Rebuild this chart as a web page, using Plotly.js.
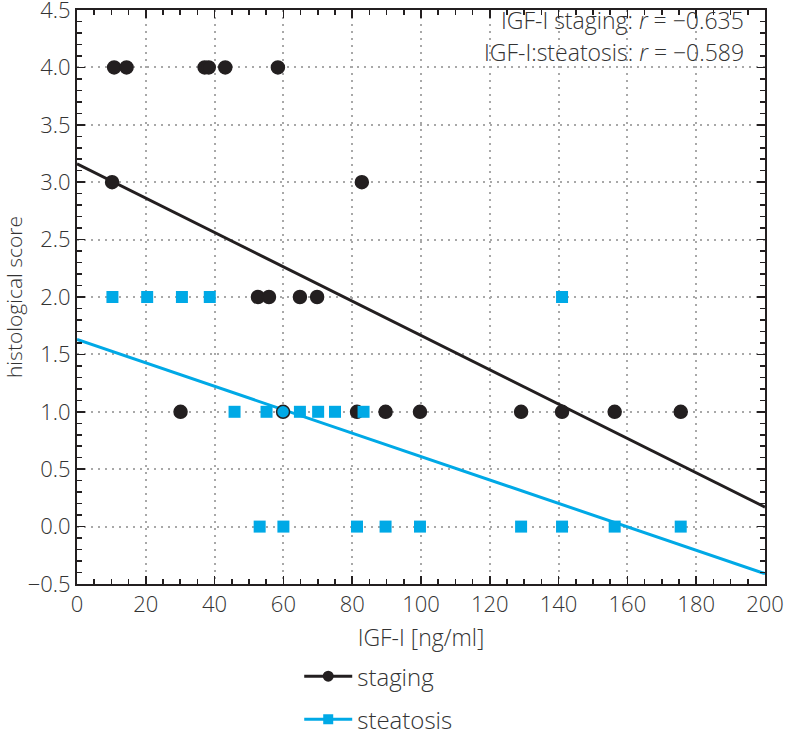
<!DOCTYPE html>
<html>
<head>
<meta charset="utf-8">
<script src="https://cdn.plot.ly/plotly-3.0.1.min.js"></script>
<style>html,body{margin:0;padding:0;background:#fff;}#chart{width:786px;height:730px;}</style>
</head>
<body>
<div id="chart"></div>
<script>
// Staging scores vs IGF-I
const stagingX = [10.8, 14.4, 37.1, 38.3, 43.1, 58.4, 10.2, 82.8, 52.6, 55.8, 64.8, 69.8, 30.1, 59.9, 81.4, 89.7, 99.7, 129.1, 141.0, 156.3, 175.5];
const stagingY = [4, 4, 4, 4, 4, 4, 3, 3, 2, 2, 2, 2, 1, 1, 1, 1, 1, 1, 1, 1, 1];
// Steatosis scores vs IGF-I
const steatosisX = [10.3, 20.4, 30.5, 38.6, 141.0, 45.8, 55.1, 64.8, 70.1, 75.0, 83.3, 53.1, 60.0, 81.4, 89.7, 99.7, 129.1, 141.0, 156.3, 175.5];
const steatosisY = [2, 2, 2, 2, 2, 1, 1, 1, 1, 1, 1, 0, 0, 0, 0, 0, 0, 0, 0, 0];
// Regression lines (end points)
const fitX = [0, 200];
const stagingFitY = [3.16, 0.17];
const steatosisFitY = [1.63, -0.41];
const stats = ["IGF-I staging: <i>r</i> = −0.635", "IGF-I:steatosis: <i>r</i> = −0.589"];
const xTicks = [0, 20, 40, 60, 80, 100, 120, 140, 160, 180, 200];
const yTicks = [-0.5, 0, 0.5, 1, 1.5, 2, 2.5, 3, 3.5, 4, 4.5];

const BLACK = '#231f20';
const BLUE = '#00a9e6';
const TXT = '#333333';
const FONT = "'Open Sans', 'Noto Sans', sans-serif";

// highlight overlapped point (blue-filled circle) as in original
const stagingFill = stagingX.map((x, i) => (stagingY[i] === 1 && Math.abs(x - 59.9) < 0.5) ? BLUE : BLACK);

const traces = [
  {x: fitX, y: stagingFitY, mode: 'lines', line: {color: BLACK, width: 3}, showlegend: false, hoverinfo: 'skip'},
  {x: fitX, y: steatosisFitY, mode: 'lines', line: {color: BLUE, width: 3}, showlegend: false, hoverinfo: 'skip'},
  {x: stagingX, y: stagingY, mode: 'markers', marker: {symbol: 'circle', size: 13, color: stagingFill, line: {color: BLACK, width: 1.5}}, showlegend: false},
  {x: steatosisX, y: steatosisY, mode: 'markers', marker: {symbol: 'square', size: 12, color: BLUE, line: {width: 0}}, showlegend: false},
  {x: [null], y: [null], name: 'staging', mode: 'lines+markers', line: {color: BLACK, width: 3}, marker: {symbol: 'circle', size: 11, color: BLACK}, legendgroup: 'a'},
  {x: [null], y: [null], name: 'steatosis', mode: 'lines+markers', line: {color: BLUE, width: 3}, marker: {symbol: 'square', size: 10, color: BLUE}, legendgroup: 'b'}
];

const f = (s) => ({family: FONT, size: s, color: TXT, weight: 300});

const axisCommon = {
  showline: true, linecolor: BLACK, linewidth: 2, mirror: 'allticks',
  ticks: 'inside', ticklen: 8, tickwidth: 1.5, tickcolor: BLACK,
  showgrid: true, gridcolor: '#a8a8a8', gridwidth: 2, griddash: '2px,5px',
  zeroline: false, ticklabeloverflow: 'allow', automargin: false,
  tickfont: f(22)
};

const layout = {
  width: 786, height: 730,
  margin: {l: 77, r: 21, t: 10, b: 146, autoexpand: false},
  paper_bgcolor: '#fff', plot_bgcolor: '#fff',
  font: {family: FONT, color: TXT},
  xaxis: Object.assign({}, axisCommon, {
    range: [0, 200], tickvals: xTicks, ticktext: xTicks.map(String), tickangle: 0,
    minor: {ticks: 'inside', dtick: 5, tick0: 0, ticklen: 5, tickwidth: 1.5, tickcolor: BLACK, showgrid: false},
    title: {text: 'IGF-I [ng/ml]', font: f(23), standoff: 12}
  }),
  yaxis: Object.assign({}, axisCommon, {
    range: [-0.5, 4.5], tickvals: yTicks, ticktext: yTicks.map(v => (v < 0 ? '−' : '') + Math.abs(v).toFixed(1)),
    minor: {ticks: 'inside', dtick: 0.1, tick0: 0, ticklen: 5, tickwidth: 1.5, tickcolor: BLACK, showgrid: false},
    title: {text: 'histological score', font: f(21), standoff: 6}
  }),
  showlegend: true,
  legend: {
    x: 0.323, xanchor: 'left', y: -0.122, yanchor: 'top',
    orientation: 'v', traceorder: 'grouped', tracegroupgap: 9, itemwidth: 48,
    font: f(24),
    bgcolor: 'rgba(0,0,0,0)'
  },
  annotations: [
    {xref: 'paper', yref: 'paper', x: 0.972, y: 0.982, xanchor: 'right', yanchor: 'middle', text: stats[0], showarrow: false, font: f(23)},
    {xref: 'paper', yref: 'paper', x: 0.972, y: 0.926, xanchor: 'right', yanchor: 'middle', text: stats[1], showarrow: false, font: f(23)}
  ]
};

Plotly.newPlot('chart', traces, layout, {displayModeBar: false, staticPlot: true});
</script>
</body>
</html>
